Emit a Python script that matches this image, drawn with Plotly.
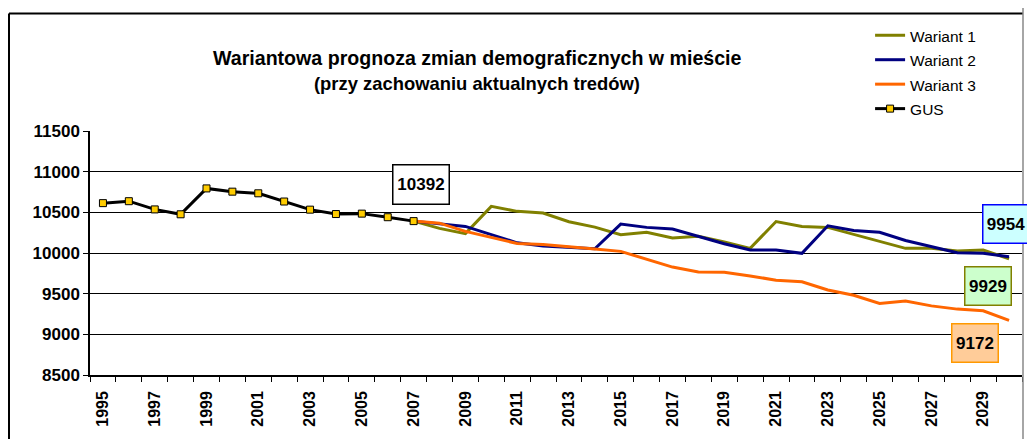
import plotly.graph_objects as go

years = list(range(1995, 2031))

gus = [10613, 10637, 10536, 10476, 10794, 10754, 10734, 10633, 10533, 10479,
       10484, 10440, 10392] + [None] * 23

wariant1 = [None] * 12 + [10392, 10303, 10238, 10573, 10512, 10492, 10385, 10318,
                          10226, 10254, 10185, 10206, 10137, 10057, 10387, 10327,
                          10315, 10226, 10145, 10057, 10057, 10024, 10036, 9929]
wariant2 = [None] * 12 + [10392, 10355, 10327, 10226, 10125, 10085, 10064, 10052,
                          10355, 10315, 10295, 10206, 10113, 10036, 10036, 9996,
                          10335, 10278, 10254, 10154, 10076, 10004, 9996, 9954]
wariant3 = [None] * 12 + [10392, 10367, 10266, 10194, 10117, 10105, 10073, 10049,
                          10020, 9928, 9827, 9766, 9762, 9718, 9666, 9646,
                          9545, 9480, 9379, 9411, 9350, 9310, 9290, 9172]

series_names = ["Wariant 1", "Wariant 2", "Wariant 3", "GUS"]
y_ticks = [8500, 9000, 9500, 10000, 10500, 11000, 11500]
x_label_years = years[::2]

title1 = "Wariantowa prognoza zmian demograficznych w mieście"
title2 = "(przy zachowaniu aktualnych tredów)"

FONT = "Liberation Sans, Arial, sans-serif"

# page body has an 8px margin: figure is offset by (8, 8) on the page
OFF = 8
PX_L, PX_R, PX_T, PX_B = 90, 1022, 130, 375  # plot area in page pixels
PW, PH = PX_R - PX_L, PX_B - PX_T


def px_x(p):
    return (p - PX_L) / PW


def px_y(p):
    return (PX_B - p) / PH


def leg(name):
    return f'<span style="font-size:15.5px">{name}</span>'


fig = go.Figure()
fig.add_trace(go.Scatter(x=years, y=wariant1, mode="lines", name=leg(series_names[0]),
                         line=dict(color="#808000", width=3)))
fig.add_trace(go.Scatter(x=years, y=wariant2, mode="lines", name=leg(series_names[1]),
                         line=dict(color="#000080", width=3)))
fig.add_trace(go.Scatter(x=years, y=wariant3, mode="lines", name=leg(series_names[2]),
                         line=dict(color="#FF6600", width=3)))
fig.add_trace(go.Scatter(x=years, y=gus, mode="lines+markers", name=leg(series_names[3]),
                         line=dict(color="#000000", width=3),
                         marker=dict(symbol="square", size=7, color="#FFCC00",
                                     line=dict(color="#000000", width=1))))

W, H = 1035 - OFF, 439 - OFF
fig.update_layout(
    width=W, height=H,
    margin=dict(l=PX_L - OFF, r=W + OFF - PX_R, t=PX_T - OFF, b=H + OFF - PX_B),
    paper_bgcolor="white", plot_bgcolor="white",
    font=dict(family=FONT, color="black"),
    showlegend=True,
    legend=dict(x=0.837, y=1.457, xanchor="left", yanchor="top",
                font=dict(size=16.5, family=FONT), bgcolor="rgba(0,0,0,0)",
                traceorder="normal"),
    xaxis=dict(range=[1994.5, 2030.5], tickvals=x_label_years,
               ticktext=[str(y) for y in x_label_years], tickangle=-90,
               tickfont=dict(size=16, weight="bold", family=FONT),
               ticks="", showgrid=False, zeroline=False, ticklabelstandoff=8,
               showline=True, linecolor="black", linewidth=1.5,
               minor=dict(tickvals=[y - 0.5 for y in years] + [2030.5],
                          ticks="outside", ticklen=5, tickcolor="black", tickwidth=1,
                          showgrid=False)),
    yaxis=dict(range=[8500, 11500], tickvals=y_ticks,
               ticktext=[str(v) for v in y_ticks],
               tickfont=dict(size=17, weight="bold", family=FONT),
               ticks="outside", ticklen=5, tickcolor="black", tickwidth=1,
               showgrid=True, gridcolor="black", gridwidth=1, zeroline=False,
               showline=True, linecolor="black", linewidth=1.5),
)

# titles
fig.add_annotation(text=title1, xref="paper", yref="paper", x=px_x(477), y=px_y(57),
                   showarrow=False, xanchor="center", yanchor="middle",
                   font=dict(size=19.6, weight="bold", family=FONT))
fig.add_annotation(text=title2, xref="paper", yref="paper", x=px_x(477), y=px_y(82),
                   showarrow=False, xanchor="center", yanchor="middle",
                   font=dict(size=18.4, weight="bold", family=FONT))


# value labels
def value_box(x, y, xs, ys, bg, border, w, h=35):
    fig.add_annotation(x=x, y=y, xref="x", yref="y", text=f"<b>{y}</b>", showarrow=False,
                       xshift=xs, yshift=ys, bgcolor=bg, bordercolor=border, borderwidth=1.5,
                       borderpad=1, width=w, height=h,
                       font=dict(size=17, family=FONT, color="black"))


value_box(years[12], gus[12], 7, 37, "white", "black", 53, 36)
value_box(years[-1], wariant2[-1], -3, 33, "#CCFFFF", "#0000FF", 43)
value_box(years[-1], wariant1[-1], -21, -27, "#CCFFCC", "#808000", 43)
value_box(years[-1], wariant3[-1], -34, -23, "#FFCC99", "#FF9900", 43)

# outer chart frame
fig.add_shape(type="line", xref="paper", yref="paper", x0=px_x(9), x1=px_x(9),
              y0=px_y(12), y1=px_y(450), line=dict(color="black", width=2))
fig.add_shape(type="line", xref="paper", yref="paper", x0=px_x(9), x1=px_x(1023),
              y0=px_y(12), y1=px_y(12), line=dict(color="black", width=2))
fig.add_shape(type="line", xref="paper", yref="paper", x0=px_x(1023), x1=px_x(1023),
              y0=px_y(0), y1=px_y(450), line=dict(color="#888888", width=1.5))

fig.write_html("out.html")
